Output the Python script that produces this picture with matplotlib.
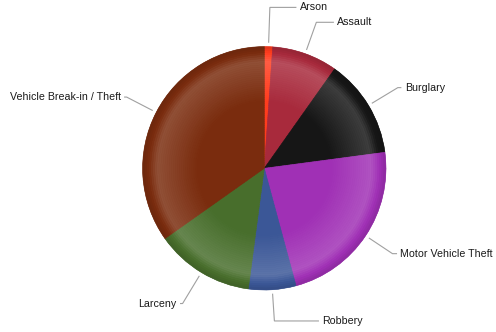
import numpy as np
import matplotlib
matplotlib.use("Agg")
from matplotlib import pyplot as plt
from matplotlib.patches import Wedge
from matplotlib.colors import to_rgb

# crime share by category (percent)
categories = ['Arson', 'Assault', 'Burglary', 'Motor Vehicle Theft',
              'Robbery', 'Larceny', 'Vehicle Break-in / Theft']
values = [1.1, 8.7, 13.1, 22.9, 6.3, 13.1, 34.8]
colors = ['#ff3c1e', '#a82a3c', '#161616', '#a030b5', '#3b5797', '#486e2c', '#7a2c0e']

# layout of the label connectors (radius of the elbow, length of the horizontal bit)
elbow_r = [161, 155, 156, 154, 153, 158, 155]
hlen = [26, 17, 3, 4, 44, 2, 2]

W, H = 496, 332
cx, cy = 264.3, H - 168.3
R = 121.7

fig = plt.figure(figsize=(W / 100, H / 100), dpi=100)
ax = fig.add_axes([0, 0, 1, 1])

wedges, _ = ax.pie(values, colors=colors, startangle=90, counterclock=False,
                   center=(cx, cy), radius=R, frame=True,
                   wedgeprops=dict(linewidth=0))

# fake the bevel: lighter ring near the rim, a bit darker right at the edge
def shade(t):
    if t < 0.55:
        return 0.0
    if t < 0.88:
        return 0.17 * (t - 0.55) / 0.33
    return 0.17 - 0.29 * (t - 0.88) / 0.12

def mix(c, f):
    c = np.array(to_rgb(c))
    if f >= 0:
        return tuple(c + (1 - c) * f)
    return tuple(c * (1 + f))

N = 60
for w, col in zip(wedges, colors):
    for i in range(N):
        r_out = R * (i + 1) / N
        t = (i + 0.5) / N
        fc = mix(col, shade(t))
        ax.add_patch(Wedge((cx, cy), r_out, w.theta1, w.theta2, width=R / N,
                           facecolor=fc, edgecolor=fc, linewidth=0.4))

# labels with elbow connectors
for w, lab, er, hl in zip(wedges, categories, elbow_r, hlen):
    ang = np.deg2rad((w.theta1 + w.theta2) / 2)
    x0, y0 = cx + (R + 4.5) * np.cos(ang), cy + (R + 4.5) * np.sin(ang)
    x1, y1 = cx + er * np.cos(ang), cy + er * np.sin(ang)
    side = 1 if np.cos(ang) >= -0.01 else -1
    x2 = x1 + side * hl
    ax.plot([x0, x1, x2], [y0, y1, y1], color='#a0a0a0', lw=0.8,
            solid_joinstyle='miter')
    ax.text(x2 + side * 4, y1, lab, ha='left' if side > 0 else 'right',
            va='center', fontsize=7.7, family='Liberation Sans', color='#1a1a1a')

ax.set_xlim(0, W)
ax.set_ylim(0, H)
ax.set_aspect('equal')
ax.axis('off')

fig.savefig('out.png', dpi=100)
